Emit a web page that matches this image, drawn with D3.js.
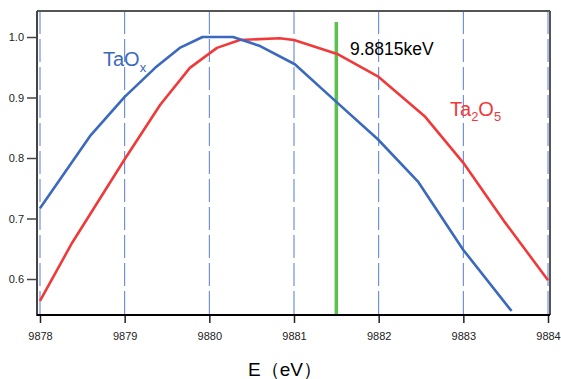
<!DOCTYPE html>
<html><head><meta charset="utf-8">
<script src="https://cdn.jsdelivr.net/npm/d3@7/dist/d3.min.js"></script>
<style>body{margin:0;background:#fff;}svg{display:block;font-family:"Liberation Sans",Arial,sans-serif;}</style>
</head><body>
<svg id="c" width="561" height="379"></svg>
<script>
const xTicks = [9878, 9879, 9880, 9881, 9882, 9883, 9884];
const yTicks = [0.6, 0.7, 0.8, 0.9, 1.0];
const taoxE = [9878, 9878.59, 9879.0, 9879.36, 9879.65, 9879.92, 9880.28, 9880.6, 9881.01, 9881.49, 9881.99, 9882.47, 9883.0, 9883.57];
const taoxI = [0.717, 0.836, 0.901, 0.949, 0.982, 1.0, 1.0, 0.985, 0.955, 0.894, 0.831, 0.760, 0.648, 0.547];
const ta2o5E = [9878, 9878.38, 9879.0, 9879.42, 9879.77, 9880.09, 9880.36, 9880.83, 9881.0, 9881.51, 9882.0, 9882.55, 9883.0, 9883.49, 9884.0];
const ta2o5I = [0.564, 0.660, 0.798, 0.888, 0.949, 0.982, 0.995, 0.998, 0.995, 0.972, 0.934, 0.868, 0.792, 0.694, 0.598];
const markerE = 9881.5;
const markerLabel = "9.8815keV";

const svg = d3.select("#c");
const x = d3.scaleLinear().domain([9878, 9884]).range([40, 548]);
const y = d3.scaleLinear().domain([0.6, 1.0]).range([279, 37]);
const L = 37, R = 550, T = 11, B = 315;

// grid
svg.append("g").selectAll("line").data(xTicks).join("line")
  .attr("x1", d => x(d)).attr("x2", d => x(d)).attr("y1", T).attr("y2", B)
  .attr("stroke", "#5b7bd5").attr("stroke-width", 1).attr("stroke-dasharray", "23,5");

// frame top/right
svg.append("line").attr("x1", L).attr("x2", R).attr("y1", T).attr("y2", T).attr("stroke", "#555").attr("stroke-width", 2);
svg.append("line").attr("x1", R).attr("x2", R).attr("y1", T).attr("y2", B).attr("stroke", "#555").attr("stroke-width", 2);

// marker line
svg.append("line").attr("x1", x(markerE)).attr("x2", x(markerE)).attr("y1", 22).attr("y2", B)
  .attr("stroke", "#5cc04c").attr("stroke-width", 3.5);

const line = d3.line().x(d => x(d[0])).y(d => y(d[1]));
svg.append("path").datum(ta2o5E.map((e, i) => [e, ta2o5I[i]]))
  .attr("d", line).attr("fill", "none").attr("stroke", "#f03a3a").attr("stroke-width", 2.6).attr("stroke-linejoin", "round");
svg.append("path").datum(taoxE.map((e, i) => [e, taoxI[i]]))
  .attr("d", line).attr("fill", "none").attr("stroke", "#3b69bd").attr("stroke-width", 2.6).attr("stroke-linejoin", "round");

// y axis
const yAx = svg.append("g").attr("transform", `translate(${L},0)`)
  .call(d3.axisLeft(y).tickValues(yTicks).tickFormat(d3.format(".1f")).tickSize(10).tickSizeOuter(0));
yAx.select(".domain").remove();
svg.append("line").attr("x1", L).attr("x2", L).attr("y1", T).attr("y2", B + 1).attr("stroke", "#444").attr("stroke-width", 2);
yAx.selectAll(".tick line").attr("stroke", "#444").attr("stroke-width", 1.5);
yAx.selectAll(".tick text").attr("x", -13).attr("font-size", 11).attr("fill", "#222").attr("font-family", "Liberation Sans, Arial");

// x axis
const xAx = svg.append("g").attr("transform", `translate(0,${B})`)
  .call(d3.axisBottom(x).tickValues(xTicks).tickFormat(d3.format("d")).tickSize(8).tickSizeOuter(0));
xAx.select(".domain").remove();
svg.append("line").attr("x1", L).attr("x2", R).attr("y1", B).attr("y2", B).attr("stroke", "#000").attr("stroke-width", 2.2);
xAx.selectAll(".tick line").attr("stroke", "#222").attr("stroke-width", 1.5);
xAx.selectAll(".tick text").attr("y", 17).attr("font-size", 11).attr("fill", "#222").attr("font-family", "Liberation Sans, Arial");

// labels
svg.append("text").attr("x", 350).attr("y", 55).attr("font-size", 17.5).attr("fill", "#000").text(markerLabel);
const t1 = svg.append("text").attr("x", 103).attr("y", 66).attr("font-size", 20).attr("fill", "#3b69bd");
t1.append("tspan").text("TaO");
t1.append("tspan").attr("font-size", 13).attr("dy", 6).text("x");
const t2 = svg.append("text").attr("x", 450).attr("y", 116).attr("font-size", 20).attr("fill", "#f03a3a");
t2.append("tspan").text("Ta");
t2.append("tspan").attr("font-size", 13).attr("dy", 5).text("2");
t2.append("tspan").attr("dy", -5).text("O");
t2.append("tspan").attr("font-size", 13).attr("dy", 5).text("5");
svg.append("text").attr("x", 248).attr("y", 376).attr("font-size", 19).attr("fill", "#000").text("E（eV）");
</script>
</body></html>
